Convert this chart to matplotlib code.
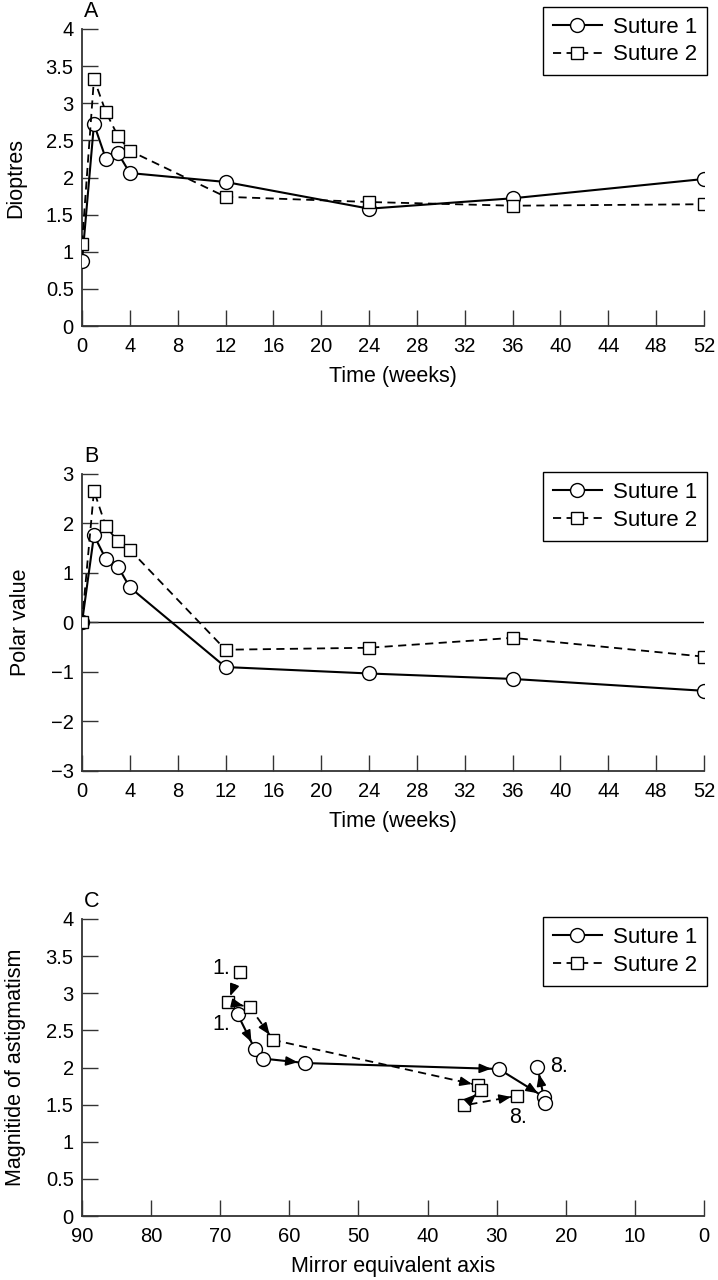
import numpy as np
import matplotlib
matplotlib.use("Agg")
import matplotlib.pyplot as plt

plt.rcParams['font.family'] = ['Liberation Sans', 'DejaVu Sans']

# ---------------- data ----------------
weeks = [0, 1, 2, 3, 4, 12, 24, 36, 52]
dioptres_s1 = [0.87, 2.72, 2.25, 2.33, 2.06, 1.94, 1.58, 1.72, 1.98]
dioptres_s2 = [1.11, 3.33, 2.88, 2.56, 2.36, 1.74, 1.67, 1.62, 1.64]
polar_s1 = [0.0, 1.76, 1.28, 1.13, 0.71, -0.90, -1.03, -1.14, -1.38]
polar_s2 = [0.0, 2.66, 1.94, 1.64, 1.47, -0.55, -0.51, -0.31, -0.69]

axis_s1 = [67.5, 65.0, 63.8, 57.7, 29.7, 23.1, 23.0, 24.1]
mag_s1 = [2.72, 2.25, 2.12, 2.06, 1.98, 1.60, 1.52, 2.01]
axis_s2 = [67.2, 68.9, 65.7, 62.3, 32.65, 32.3, 34.7, 27.0]
mag_s2 = [3.29, 2.88, 2.81, 2.37, 1.76, 1.70, 1.49, 1.62]

labels = ["Suture 1", "Suture 2"]
week_ticks = list(range(0, 53, 4))
axis_ticks = list(range(90, -1, -10))
half_ticks = ['0', '0.5', '1', '1.5', '2', '2.5', '3', '3.5', '4']

# ---------------- layout ----------------
fig = plt.figure(figsize=(7.18, 12.8), dpi=100)
L, W, H = 82 / 718, 622 / 718, 297 / 1280
axA = fig.add_axes([L, 1 - 326 / 1280, W, H])
axB = fig.add_axes([L, 1 - 771 / 1280, W, H])
axC = fig.add_axes([L, 1 - 1216 / 1280, W, H])

TICK_FS = 14.5
LAB_FS = 15.5
s1_style = dict(color='k', lw=1.5, marker='o', ms=10, mfc='white', mec='k', mew=1.0)
s2_style = dict(color='k', lw=1.3, ls=(0, (4.5, 3)), marker='s', ms=9, mfc='white', mec='k', mew=1.0)


def style_axes(ax):
    for s in ('top', 'right'):
        ax.spines[s].set_visible(False)
    for s in ('left', 'bottom'):
        ax.spines[s].set_linewidth(1.3)
        ax.spines[s].set_color('#333333')
    ax.tick_params(direction='in', length=11.5, width=1.0, colors='#333333',
                   labelcolor='k', labelsize=TICK_FS)
    ax.tick_params(axis='y', pad=6)
    ax.tick_params(axis='x', pad=8)


def add_legend(ax, handles, top):
    leg = ax.legend(handles, labels, loc='upper right', bbox_to_anchor=(1.005, top),
                    borderaxespad=0, fancybox=False, edgecolor='k', framealpha=1,
                    fontsize=16, handlelength=2.2, handletextpad=0.5,
                    borderpad=0.45, labelspacing=0.3)
    leg.get_frame().set_linewidth(1.0)


def panel_letter(ax, letter):
    ax.text(0.003, 1.04, letter, transform=ax.transAxes, fontsize=15.5,
            ha='left', va='baseline')


def labels_for(ax, xlabel, ylabel):
    ax.set_xlabel(xlabel, fontsize=LAB_FS, labelpad=7)
    ax.set_ylabel(ylabel, fontsize=LAB_FS, labelpad=14)


# ---------------- Panel A ----------------
hA1, = axA.plot(weeks, dioptres_s1, zorder=3, **s1_style)
hA2, = axA.plot(weeks, dioptres_s2, zorder=4, **s2_style)
axA.set_xlim(0, 52)
axA.set_ylim(0, 4)
axA.set_xticks(week_ticks)
axA.set_yticks(np.arange(0, 4.01, 0.5))
axA.set_yticklabels(half_ticks)
style_axes(axA)
labels_for(axA, "Time (weeks)", "Dioptres")
add_legend(axA, [hA1, hA2], 1.075)
panel_letter(axA, "A")

# ---------------- Panel B ----------------
axB.axhline(0, color='k', lw=1.0, zorder=1)
hB1, = axB.plot(weeks, polar_s1, zorder=3, **s1_style)
hB2, = axB.plot(weeks, polar_s2, zorder=4, **s2_style)
axB.set_xlim(0, 52)
axB.set_ylim(-3, 3)
axB.set_xticks(week_ticks)
axB.set_yticks(range(-3, 4))
style_axes(axB)
labels_for(axB, "Time (weeks)", "Polar value")
add_legend(axB, [hB1, hB2], 1.007)
panel_letter(axB, "B")

# ---------------- Panel C ----------------
hC1, = axC.plot(axis_s1, mag_s1, zorder=3, **s1_style)
hC2, = axC.plot(axis_s2, mag_s2, zorder=4, **s2_style)
axC.set_xlim(90, 0)
axC.set_ylim(0, 4)
axC.set_xticks(axis_ticks)
axC.set_yticks(np.arange(0, 4.01, 0.5))
axC.set_yticklabels(half_ticks)
style_axes(axC)
labels_for(axC, "Mirror equivalent axis", "Magnitide of astigmatism")
add_legend(axC, [hC1, hC2], 1.007)
panel_letter(axC, "C")


def add_arrows(ax, xs, ys, r_px, reverse=()):
    pts = ax.transData.transform(np.column_stack([xs, ys]))
    for i in range(len(xs) - 1):
        s, d = (i + 1, i) if i in reverse else (i, i + 1)
        vec = pts[d] - pts[s]
        dist = np.hypot(*vec)
        if dist < 18:
            continue
        u = vec / dist
        Lt = min(dist - r_px, r_px + 12)
        ax.annotate('', xy=(xs[d], ys[d]), xytext=(-u[0] * Lt, -u[1] * Lt),
                    textcoords='offset pixels', zorder=5,
                    arrowprops=dict(arrowstyle='-|>,head_length=0.7,head_width=0.28',
                                    mutation_scale=10, color='k', lw=1.2,
                                    shrinkA=0, shrinkB=r_px * 72 / 100))


add_arrows(axC, axis_s1, mag_s1, 7.5)
add_arrows(axC, axis_s2, mag_s2, 6.5, reverse=(5,))

for x, y, t in [(69.9, 3.33, "1."), (69.9, 2.58, "1."), (21.0, 2.02, "8."), (26.9, 1.32, "8.")]:
    axC.text(x, y, t, fontsize=15.5, ha='center', va='center')

fig.savefig("out.png", dpi=100)
